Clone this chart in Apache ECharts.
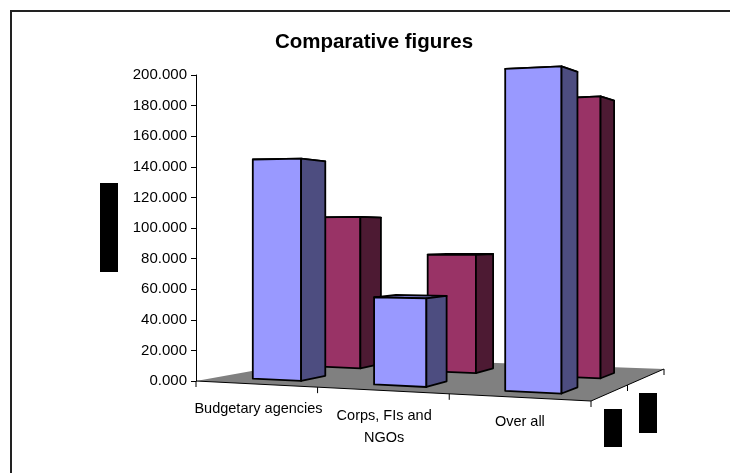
<!DOCTYPE html>
<html>
<head>
<meta charset="utf-8">
<style>html,body{margin:0;padding:0;background:#fff}#c{width:730px;height:473px}</style>
<script src="https://cdn.jsdelivr.net/npm/echarts@6/dist/echarts.min.js"></script>
</head>
<body>
<div id="c"></div>
<script>
var titleText = 'Comparative figures';
var categories = ['Budgetary agencies', 'Corps, FIs and\nNGOs', 'Over all'];
var frontValues = [146, 56, 199];
var backValues = [109, 82, 188];
var yTicks = { min: 0, max: 200, interval: 20 };

// floor quadrilateral of the 3D box; front edge equals the grid's width
var grid = { left: 196, top: 75, width: 395, height: 306 };
var backLeft = [330, 357], backRight = [664, 369], frontRightRise = 20;
var rows = { front: [0.17, 0.37], back: [0.66, 0.83] };
var barHalf = 0.068;
var labelShift = [[3, -6], [8, 5], [5, 2]];

function floorPt(u, V) {
  var U = u * (0.885 + 0.23 * u / 2);
  var x0 = grid.left, y0 = grid.top + grid.height;
  var x1 = x0 + grid.width, y1 = y0 + frontRightRise;
  var xL = x0 + (backLeft[0] - x0) * V, yL = y0 + (backLeft[1] - y0) * V;
  var xR = x1 + (backRight[0] - x1) * V, yR = y1 + (backRight[1] - y1) * V;
  return [xL + (xR - xL) * U, yL + (yR - yL) * U, U, V];
}
function lift(p, px) {
  var s = (1 + 0.12 * p[2]) * (1 - 0.174 * p[3]);
  return [p[0], p[1] - px * s];
}
function poly(pts, fill) {
  return { type: 'polygon', shape: { points: pts },
    style: { fill: fill, stroke: '#000', lineWidth: 1.8, lineJoin: 'round' } };
}
function barRenderer(row, faceColor, sideColor, topColor) {
  return function (params, api) {
    var c = api.coord([api.value(0), api.value(1)]);
    var base = api.coord([api.value(0), 0]);
    var px = base[1] - c[1];
    var u = (c[0] - grid.left) / grid.width;
    var fl = floorPt(u - barHalf, row[0]), fr = floorPt(u + barHalf, row[0]);
    var bl = floorPt(u - barHalf, row[1]), br = floorPt(u + barHalf, row[1]);
    var tfl = lift(fl, px), tfr = lift(fr, px), tbl = lift(bl, px), tbr = lift(br, px);
    return { type: 'group', children: [
      poly([tfl, tfr, tbr, tbl], topColor),
      poly([fl.slice(0, 2), fr.slice(0, 2), tfr, tfl], faceColor),
      poly([fr.slice(0, 2), br.slice(0, 2), tbr, tfr], sideColor)
    ] };
  };
}
function floorRenderer(params, api) {
  var i = params.dataIndex;
  var c = api.coord([api.value(0), 0]);
  var u = (c[0] - grid.left) / grid.width;
  var uEnd = u + 0.5 / categories.length;
  var children = [];
  function tick(p) {
    return { type: 'line', shape: { x1: p[0], y1: p[1], x2: p[0], y2: p[1] + 6 },
      style: { stroke: '#000', lineWidth: 1 } };
  }
  if (i === 0) {
    var a = floorPt(0, 0), b = floorPt(1, 0), d = floorPt(1, 1), e = floorPt(0, 1);
    children.push({ type: 'polygon', shape: { points: [a, b, d, e].map(function (q) { return q.slice(0, 2); }) },
      style: { fill: '#808080', stroke: null } });
    children.push({ type: 'polyline', shape: { points: [a.slice(0, 2), b.slice(0, 2), d.slice(0, 2)] },
      style: { stroke: '#000', fill: null, lineWidth: 1 } });
    children.push(tick(a));
    children.push(tick(d));
    children.push(tick(floorPt(1, 0.5)));
  }
  children.push(tick(floorPt(uEnd, 0)));
  var lp = floorPt(u, 0);
  children.push({ type: 'text', style: {
    x: lp[0] - [0, 6, 4][i] + labelShift[i][0], y: lp[1] + [20, 10, 12][i] + labelShift[i][1],
    text: categories[i], fill: '#000', align: 'center', verticalAlign: 'top',
    font: '14.5px "Liberation Sans", Arial, sans-serif', lineHeight: 22 } });
  return { type: 'group', children: children };
}
function toData(values) { return values.map(function (v, i) { return [i, v]; }); }

var chart = echarts.init(document.getElementById('c'), null, { renderer: 'canvas' });
chart.setOption({
  animation: false,
  backgroundColor: '#fff',
  title: { text: titleText, left: 369, top: 27, textAlign: 'center',
    textStyle: { fontFamily: '"Liberation Sans", Arial, sans-serif', fontSize: 20.5, fontWeight: 'bold', color: '#000' } },
  grid: grid,
  xAxis: { type: 'category', data: categories, show: false },
  yAxis: { type: 'value', min: yTicks.min, max: yTicks.max, interval: yTicks.interval, z: 5,
    splitLine: { show: false },
    axisLine: { show: true, lineStyle: { color: '#000', width: 1 } },
    axisTick: { show: true, length: 5, lineStyle: { color: '#000', width: 1 } },
    axisLabel: { color: '#000', margin: 9, fontSize: 15, fontFamily: '"Liberation Sans", Arial, sans-serif',
      formatter: function (v) { return v.toFixed(3); } } },
  series: [
    { type: 'custom', name: 'floor', renderItem: floorRenderer, data: toData(categories.map(function () { return 0; })), z: 1, silent: true },
    { type: 'custom', name: 'Series 2', renderItem: barRenderer(rows.back, '#993366', '#4D1A33', '#73264D'), data: toData(backValues), z: 2 },
    { type: 'custom', name: 'Series 1', renderItem: barRenderer(rows.front, '#9999FF', '#4D4D80', '#7373BF'), data: toData(frontValues), z: 3 }
  ],
  graphic: [
    { type: 'line', shape: { x1: 11, y1: 11, x2: 730, y2: 11 }, style: { stroke: '#222', lineWidth: 2 }, silent: true },
    { type: 'line', shape: { x1: 11, y1: 10, x2: 11, y2: 473 }, style: { stroke: '#222', lineWidth: 2 }, silent: true },
    { type: 'rect', shape: { x: 100, y: 183, width: 18, height: 89 }, style: { fill: '#000' }, silent: true },
    { type: 'rect', shape: { x: 604, y: 409, width: 18, height: 38 }, style: { fill: '#000' }, silent: true },
    { type: 'rect', shape: { x: 639, y: 393, width: 18, height: 40 }, style: { fill: '#000' }, silent: true }
  ]
});
</script>
</body>
</html>
